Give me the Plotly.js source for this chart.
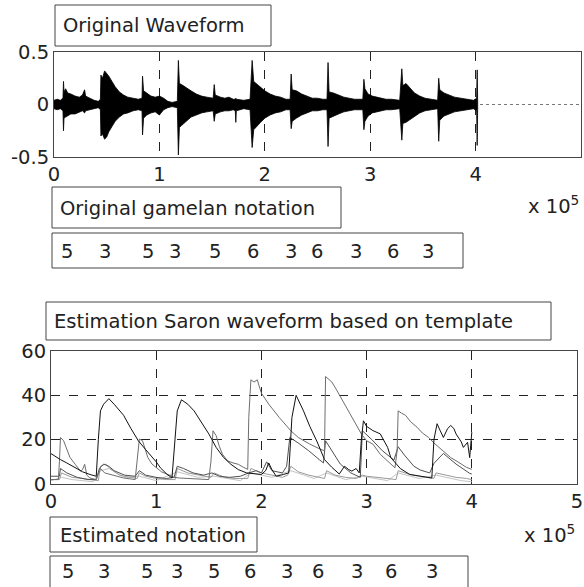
<!DOCTYPE html>
<html>
<head>
<meta charset="utf-8">
<script src="https://cdn.plot.ly/plotly-3.0.1.min.js"></script>
<style>html,body{margin:0;padding:0;background:#fff;}#chart{width:584px;height:587px;}</style>
</head>
<body>
<div id="chart"></div>
<script>
// ---------- DATA ----------
// x tick labels (units of 1e5 samples)
const xTicks = [0, 1, 2, 3, 4, 5];
const topYTicks = [-0.5, 0, 0.5];
const topYText = ['-0.5', '0', '0.5'];
const botYTicks = [0, 20, 40, 60];

// Original waveform envelope: [x (1e5), upper, lower]
const wave = [
  [0, .04, -.04], [.03, .05, -.05], [.06, .04, -.04], [.085, .06, -.06], [.09, .22, -.25],
  [.095, .12, -.13], [.11, .15, -.12], [.13, .11, -.11], [.16, .10, -.09], [.2, .08, -.09],
  [.24, .07, -.07], [.27, .09, -.06], [.29, .14, -.08], [.30, .08, -.06], [.34, .06, -.05],
  [.38, .04, -.04], [.42, .03, -.03], [.44, .05, -.05], [.445, .28, -.30], [.46, .25, -.28],
  [.48, .32, -.33], [.5, .30, -.31], [.52, .27, -.26], [.55, .22, -.21], [.58, .17, -.16],
  [.62, .12, -.12], [.66, .09, -.09], [.7, .07, -.08], [.75, .06, -.06], [.8, .05, -.05],
  [.835, .06, -.06], [.84, .27, -.29], [.85, .13, -.13], [.88, .11, -.10], [.92, .08, -.08],
  [.96, .07, -.07], [1.0, .08, -.10], [1.04, .06, -.05], [1.08, .03, -.03], [1.12, .02, -.02],
  [1.17, .03, -.03], [1.18, .42, -.48], [1.19, .20, -.22], [1.21, .19, -.20], [1.25, .16, -.16],
  [1.3, .13, -.12], [1.35, .10, -.10], [1.4, .08, -.08], [1.45, .07, -.07], [1.51, .06, -.06],
  [1.52, .19, -.16], [1.53, .09, -.09], [1.58, .07, -.07], [1.62, .06, -.06], [1.66, .07, -.06],
  [1.70, .05, -.05], [1.72, .05, -.06], [1.725, .06, -.17], [1.73, .05, -.06], [1.8, .04, -.04],
  [1.86, .05, -.05], [1.88, .42, -.41], [1.895, .22, -.24], [1.92, .20, -.21], [1.96, .16, -.17],
  [2.0, .13, -.13], [2.05, .10, -.10], [2.1, .08, -.08], [2.15, .07, -.07], [2.2, .05, -.05],
  [2.24, .05, -.05], [2.25, .29, -.23], [2.26, .14, -.16], [2.3, .13, -.13], [2.35, .10, -.10],
  [2.4, .08, -.08], [2.45, .06, -.06], [2.5, .06, -.06], [2.55, .05, -.05], [2.59, .05, -.05],
  [2.6, .40, -.40], [2.61, .12, -.13], [2.65, .11, -.11], [2.7, .09, -.09], [2.75, .07, -.07],
  [2.8, .06, -.06], [2.85, .05, -.05], [2.93, .05, -.05], [2.94, .24, -.24], [2.95, .15, -.16],
  [2.98, .10, -.11], [3.02, .08, -.08], [3.06, .07, -.07], [3.1, .06, -.06], [3.15, .05, -.05],
  [3.2, .05, -.05], [3.28, .04, -.04], [3.30, .34, -.34], [3.31, .18, -.18], [3.34, .20, -.17],
  [3.38, .15, -.14], [3.42, .11, -.11], [3.47, .08, -.08], [3.52, .06, -.06], [3.58, .05, -.05],
  [3.64, .04, -.04], [3.65, .25, -.35], [3.66, .14, -.15], [3.7, .11, -.11], [3.75, .09, -.09],
  [3.8, .07, -.07], [3.86, .06, -.06], [3.92, .05, -.05], [3.98, .04, -.04], [4.01, .06, -.06],
  [4.015, .33, -.39], [4.02, 0, 0]
];

// Estimated Saron template responses: [x (1e5), value]
const estBlack = [
  [0, 13.7], [0.05, 12], [0.09, 11], [0.15, 9.5], [0.23, 7.3], [0.3, 5.5], [0.37, 4.3], [0.43, 3.5],
  [0.45, 20], [0.47, 33], [0.5, 36], [0.55, 38.5], [0.6, 36], [0.69, 31], [0.76, 25], [0.83, 19.5],
  [0.9, 15.5], [0.94, 13.4], [1.0, 10], [1.04, 7.3], [1.1, 4.5], [1.15, 2.7], [1.17, 15], [1.2, 33],
  [1.24, 38], [1.3, 36], [1.36, 33], [1.43, 28], [1.5, 22.6], [1.57, 16.5], [1.64, 12], [1.71, 8.9],
  [1.78, 6.5], [1.86, 5], [1.93, 4.5], [2.0, 4.3], [2.04, 6], [2.07, 9.5], [2.1, 6.5], [2.14, 3.5],
  [2.21, 4.3], [2.26, 5], [2.29, 30], [2.33, 40], [2.36, 37], [2.4, 33], [2.46, 26], [2.53, 19],
  [2.6, 11], [2.67, 7.5], [2.74, 4.5], [2.77, 6.5], [2.79, 8], [2.83, 6.5], [2.86, 5.8], [2.9, 7],
  [2.93, 5], [2.95, 20], [2.97, 28.5], [3.0, 26], [3.06, 24.1], [3.13, 22.6], [3.2, 16.5], [3.23, 11.9],
  [3.27, 9.6], [3.32, 7], [3.41, 4.3], [3.5, 3.5], [3.56, 3], [3.62, 2.7], [3.64, 20], [3.67, 27.2],
  [3.7, 24], [3.73, 21], [3.77, 25], [3.8, 26.4], [3.83, 25], [3.85, 22.6], [3.9, 19], [3.92, 16.5],
  [3.96, 18.8], [3.98, 11.9], [4.0, 23.4]
];
const estGray = [
  [0, 2], [0.07, 2], [0.08, 10], [0.09, 21], [0.12, 19.5], [0.15, 16], [0.18, 12], [0.23, 8.9],
  [0.28, 5.8], [0.3, 6.5], [0.32, 8.9], [0.34, 4], [0.37, 2.7], [0.43, 2], [0.47, 7], [0.51, 5],
  [0.6, 4], [0.69, 2.7], [0.8, 2], [0.82, 10], [0.84, 20.3], [0.87, 19.5], [0.9, 15], [0.92, 12],
  [0.96, 9], [1.0, 7.3], [1.05, 5.5], [1.11, 4.3], [1.17, 3], [1.22, 2.7], [1.3, 2.5], [1.4, 2.2],
  [1.5, 2], [1.52, 10], [1.54, 24], [1.57, 21.8], [1.6, 17], [1.63, 13.4], [1.68, 10.4], [1.73, 9.5],
  [1.78, 8.9], [1.83, 7.5], [1.87, 6.6], [1.88, 30], [1.9, 47], [1.93, 46], [1.96, 47], [2.0, 41],
  [2.07, 36], [2.17, 30], [2.28, 24], [2.35, 21], [2.46, 18], [2.56, 15.7], [2.6, 15], [2.61, 48.5],
  [2.67, 46], [2.72, 42], [2.77, 37.9], [2.83, 33], [2.88, 28.7], [2.95, 22.6], [3.0, 19.5], [3.06, 18],
  [3.13, 13.4], [3.2, 10.4], [3.27, 7.3], [3.29, 15], [3.3, 33], [3.33, 32], [3.37, 31], [3.42, 28],
  [3.48, 25.6], [3.53, 23], [3.59, 21], [3.64, 18.5], [3.69, 16.5], [3.75, 14], [3.8, 11.9], [3.85, 10.5],
  [3.9, 8.9], [3.95, 7.5], [4.0, 6.6]
];
const estDark = [
  [0, 3.5], [0.08, 3.5], [0.09, 7], [0.15, 5], [0.25, 3], [0.35, 2], [0.43, 2], [0.46, 7],
  [0.5, 9], [0.55, 8], [0.6, 6], [0.7, 4], [0.8, 3.5], [0.84, 6], [0.9, 4], [1.0, 3],
  [1.1, 2.5], [1.17, 3], [1.2, 8], [1.26, 7], [1.35, 5], [1.45, 4], [1.53, 5], [1.6, 3.5],
  [1.7, 3], [1.8, 3.5], [1.88, 5], [1.95, 6], [2.0, 5], [2.05, 10], [2.1, 6], [2.2, 5],
  [2.24, 8], [2.27, 21], [2.35, 18.5], [2.45, 15], [2.55, 11], [2.59, 9.5], [2.61, 19.5], [2.68, 14],
  [2.75, 9], [2.85, 5], [2.94, 3], [2.96, 24], [3.05, 20], [3.15, 15], [3.26, 10.8], [3.3, 16.8],
  [3.36, 13], [3.45, 8], [3.51, 6.3], [3.6, 5], [3.64, 9.3], [3.73, 13.8], [3.85, 9], [3.98, 4.8], [4.0, 4.5]
];
const estLight = [
  [0, 2], [0.08, 2], [0.1, 5], [0.2, 3], [0.3, 2.5], [0.4, 2], [0.45, 1.5], [0.47, 8],
  [0.52, 9], [0.56, 7], [0.65, 4], [0.75, 3], [0.82, 2.5], [0.84, 5], [0.9, 3.5], [1.0, 2.5],
  [1.1, 2], [1.18, 2], [1.2, 7], [1.3, 5], [1.4, 4], [1.52, 3], [1.55, 5], [1.65, 3],
  [1.75, 2.5], [1.87, 2.5], [1.9, 7], [2.0, 5], [2.1, 4], [2.2, 3], [2.25, 4], [2.28, 8],
  [2.35, 5.5], [2.45, 4], [2.55, 3], [2.6, 2.5], [2.62, 6], [2.7, 4], [2.8, 3], [2.9, 2.5],
  [2.96, 4], [3.0, 3.5], [3.1, 3], [3.2, 2.5], [3.28, 2], [3.3, 6], [3.4, 4.5], [3.5, 3.5],
  [3.6, 3], [3.64, 2.5], [3.66, 5], [3.75, 4], [3.85, 3], [3.95, 2.5], [4.0, 2]
];
const estLighter = [
  [0, 1.5], [0.1, 3], [0.2, 2], [0.4, 1], [0.47, 6], [0.55, 7], [0.7, 3], [0.84, 3.5],
  [1.0, 1.5], [1.2, 5.5], [1.4, 3], [1.55, 3.5], [1.8, 1.5], [1.9, 5], [2.1, 3], [2.28, 6],
  [2.5, 2.5], [2.62, 5], [2.8, 2], [2.96, 3.5], [3.2, 1.5], [3.3, 5], [3.5, 2.5], [3.66, 4],
  [3.9, 1.5], [4.0, 1]
];

// Text content
const titleTop = 'Original Waveform';
const titleOrigNotation = 'Original gamelan notation';
const titleBottom = 'Estimation Saron waveform based on template';
const titleEstNotation = 'Estimated notation';
const origNotes = ['5', '3', '5', '3', '5', '6', '3', '6', '3', '6', '3'];
const estNotes = ['5', '3', '5', '3', '5', '6', '3', '6', '3', '6', '3'];

// ---------- LAYOUT (pixel helpers) ----------
const W = 584, H = 587;
const px = v => v / W;
const py = v => 1 - v / H;
const FONT = 'DejaVu Sans';
const FS = 19.5;
const TXT = '#222';

const noteLeftTop = [59, 96.7, 140, 166.7, 206.7, 245, 283.3, 309.3, 348.3, 385, 420];
const noteLeftBot = [59.5, 96, 139, 169, 206, 241.6, 278.8, 310, 349, 383, 424];

const traces = [
  {x: wave.map(p => p[0]), y: wave.map(p => p[2]), xaxis: 'x', yaxis: 'y', mode: 'lines',
   line: {color: '#000', width: 0.8}, hoverinfo: 'skip'},
  {x: wave.map(p => p[0]), y: wave.map(p => p[1]), xaxis: 'x', yaxis: 'y', mode: 'lines',
   fill: 'tonexty', fillcolor: '#000', line: {color: '#000', width: 0.8}, hoverinfo: 'skip'},
  {x: estLighter.map(p => p[0]), y: estLighter.map(p => p[1]), xaxis: 'x2', yaxis: 'y2', mode: 'lines',
   line: {color: '#c4c4c4', width: 1}},
  {x: estLight.map(p => p[0]), y: estLight.map(p => p[1]), xaxis: 'x2', yaxis: 'y2', mode: 'lines',
   line: {color: '#9a9a9a', width: 1}},
  {x: estDark.map(p => p[0]), y: estDark.map(p => p[1]), xaxis: 'x2', yaxis: 'y2', mode: 'lines',
   line: {color: '#505050', width: 1}},
  {x: estGray.map(p => p[0]), y: estGray.map(p => p[1]), xaxis: 'x2', yaxis: 'y2', mode: 'lines',
   line: {color: '#6e6e6e', width: 1}},
  {x: estBlack.map(p => p[0]), y: estBlack.map(p => p[1]), xaxis: 'x2', yaxis: 'y2', mode: 'lines',
   line: {color: '#111', width: 1}}
];

const axFont = {family: FONT, size: FS, color: TXT};
const baseX = {range: [0, 5], tickvals: xTicks, ticktext: xTicks.map(String), showline: true, mirror: true,
  linecolor: '#444', linewidth: 1, zeroline: false, ticks: '', tickfont: axFont, showgrid: true,
  gridcolor: '#222', griddash: 'dash', gridwidth: 1, fixedrange: true};

const shapes = [];
const annotations = [];
function box(x0, y0, x1, y1) {
  shapes.push({type: 'rect', xref: 'paper', yref: 'paper', x0: px(x0), x1: px(x1), y0: py(y1), y1: py(y0),
    line: {color: '#444', width: 1}, fillcolor: 'rgba(0,0,0,0)', layer: 'above'});
}
function label(text, x, y) {
  annotations.push({text: text, xref: 'paper', yref: 'paper', x: px(x), y: py(y), xanchor: 'left',
    yanchor: 'middle', showarrow: false, font: axFont});
}

box(55, 5, 271, 46);  label(titleTop, 61, 25);
box(52, 187, 341, 228); label(titleOrigNotation, 58, 208);
box(52, 233, 463, 268);
origNotes.forEach((n, i) => label(n, noteLeftTop[i], 251));
box(46, 302, 551, 340); label(titleBottom, 52, 321);
box(50, 517, 257, 552); label(titleEstNotation, 58, 535);
box(50, 556, 468, 600);
estNotes.forEach((n, i) => label(n, noteLeftBot[i], 571));

annotations.push({text: 'x 10<sup>5</sup>', xref: 'paper', yref: 'paper', x: px(581), y: py(205),
  xanchor: 'right', yanchor: 'middle', showarrow: false, font: axFont});
annotations.push({text: 'x 10<sup>5</sup>', xref: 'paper', yref: 'paper', x: px(577), y: py(534),
  xanchor: 'right', yanchor: 'middle', showarrow: false, font: axFont});

const layout = {
  width: W, height: H, autosize: false,
  margin: {l: 0, r: 0, t: 0, b: 0, pad: 0},
  paper_bgcolor: '#fff', plot_bgcolor: '#fff',
  showlegend: false,
  font: {family: FONT, size: FS, color: TXT},
  xaxis: Object.assign({}, baseX, {domain: [px(54), px(581)], anchor: 'y'}),
  yaxis: {domain: [py(157), py(52)], range: [-0.5, 0.5], tickvals: topYTicks, ticktext: topYText,
    showline: true, mirror: true, linecolor: '#444', linewidth: 1, zeroline: false, ticks: '',
    tickfont: axFont, showgrid: true, gridcolor: '#777', griddash: 'dot', gridwidth: 1, anchor: 'x', fixedrange: true},
  xaxis2: Object.assign({}, baseX, {domain: [px(51), px(577)], anchor: 'y2'}),
  yaxis2: {domain: [py(484), py(351)], range: [0, 60], tickvals: botYTicks, ticktext: botYTicks.map(String),
    showline: true, mirror: true, linecolor: '#444', linewidth: 1, zeroline: false, ticks: '',
    tickfont: axFont, showgrid: true, gridcolor: '#222', griddash: 'dash', gridwidth: 1, anchor: 'x2', fixedrange: true},
  shapes: shapes,
  annotations: annotations
};

Plotly.newPlot('chart', traces, layout, {displayModeBar: false, staticPlot: true});
</script>
</body>
</html>
